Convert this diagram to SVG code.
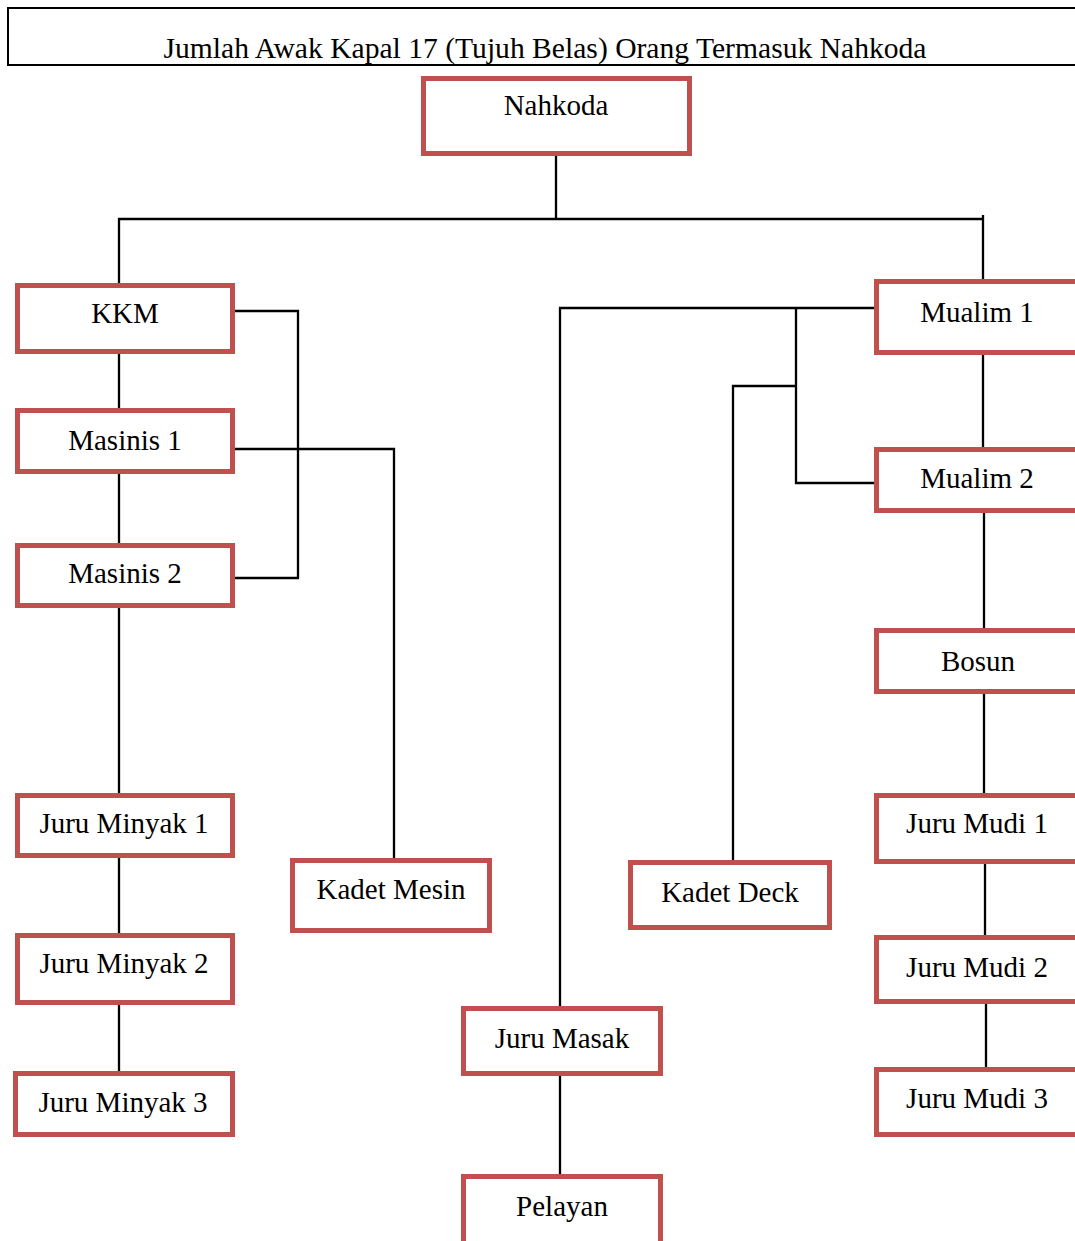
<svg xmlns="http://www.w3.org/2000/svg" width="1075" height="1241" viewBox="0 0 1075 1241">
<style>
.box{fill:#fff;stroke:#C0504D;stroke-width:5}
.lbl{font-family:"Liberation Serif","Times New Roman",serif;font-size:29px;fill:#000;text-anchor:middle}
.ln{fill:none;stroke:#000;stroke-width:2.3}
</style>
<rect x="0" y="0" width="1075" height="1241" fill="#fff"/>
<g id="title">
<rect x="8" y="8" width="1080" height="57" fill="#fff" stroke="#000" stroke-width="2"/>
<text class="lbl" x="545" y="58" textLength="763" lengthAdjust="spacingAndGlyphs">Jumlah Awak Kapal 17 (Tujuh Belas) Orang Termasuk Nahkoda</text>
</g>
<g id="connectors">
<path class="ln" d="M556 156 V219"/>
<path class="ln" d="M119 283 V219 H983"/>
<path class="ln" d="M983 215 V281"/>
<path class="ln" d="M119 354 V408"/>
<path class="ln" d="M119 474 V543"/>
<path class="ln" d="M119 608 V793"/>
<path class="ln" d="M119 858 V933"/>
<path class="ln" d="M119 1005 V1071"/>
<path class="ln" d="M235 311 H298 V578 H235"/>
<path class="ln" d="M235 449 H394 V858"/>
<path class="ln" d="M874 308 H560 V1006"/>
<path class="ln" d="M796 308 V483 H874"/>
<path class="ln" d="M796 386 H733 V860"/>
<path class="ln" d="M983 355 V447"/>
<path class="ln" d="M984 513 V628"/>
<path class="ln" d="M984 694 V793"/>
<path class="ln" d="M985 864 V935"/>
<path class="ln" d="M986 1004 V1067"/>
<path class="ln" d="M560 1076 V1174"/>
</g>
<g id="nahkoda"><rect class="box" x="423.5" y="78.5" width="266" height="75"/><text class="lbl" x="556" y="115">Nahkoda</text></g>
<g id="kkm"><rect class="box" x="17.5" y="285.5" width="215" height="66"/><text class="lbl" x="125" y="323">KKM</text></g>
<g id="masinis1"><rect class="box" x="17.5" y="410.5" width="215" height="61"/><text class="lbl" x="125" y="450">Masinis 1</text></g>
<g id="masinis2"><rect class="box" x="17.5" y="545.5" width="215" height="60"/><text class="lbl" x="125" y="583">Masinis 2</text></g>
<g id="juru-minyak-1"><rect class="box" x="17.5" y="795.5" width="215" height="60"/><text class="lbl" x="124" y="833">Juru Minyak 1</text></g>
<g id="juru-minyak-2"><rect class="box" x="17.5" y="935.5" width="215" height="67"/><text class="lbl" x="124" y="973">Juru Minyak 2</text></g>
<g id="juru-minyak-3"><rect class="box" x="15.5" y="1073.5" width="217" height="61"/><text class="lbl" x="123" y="1112">Juru Minyak 3</text></g>
<g id="kadet-mesin"><rect class="box" x="292.5" y="860.5" width="197" height="70"/><text class="lbl" x="391" y="899">Kadet Mesin</text></g>
<g id="kadet-deck"><rect class="box" x="630.5" y="862.5" width="199" height="65"/><text class="lbl" x="730" y="902">Kadet Deck</text></g>
<g id="juru-masak"><rect class="box" x="463.5" y="1008.5" width="197" height="65"/><text class="lbl" x="562" y="1048">Juru Masak</text></g>
<g id="pelayan"><rect class="box" x="463.5" y="1176.5" width="197" height="72"/><text class="lbl" x="562" y="1216">Pelayan</text></g>
<g id="mualim1"><rect class="box" x="876.5" y="281.5" width="220" height="71"/><text class="lbl" x="977" y="322">Mualim 1</text></g>
<g id="mualim2"><rect class="box" x="876.5" y="449.5" width="220" height="61"/><text class="lbl" x="977" y="488">Mualim 2</text></g>
<g id="bosun"><rect class="box" x="876.5" y="630.5" width="220" height="61"/><text class="lbl" x="978" y="671">Bosun</text></g>
<g id="juru-mudi-1"><rect class="box" x="876.5" y="795.5" width="220" height="66"/><text class="lbl" x="977" y="833">Juru Mudi 1</text></g>
<g id="juru-mudi-2"><rect class="box" x="876.5" y="937.5" width="220" height="64"/><text class="lbl" x="977" y="977">Juru Mudi 2</text></g>
<g id="juru-mudi-3"><rect class="box" x="876.5" y="1069.5" width="220" height="65"/><text class="lbl" x="977" y="1108">Juru Mudi 3</text></g>
</svg>
